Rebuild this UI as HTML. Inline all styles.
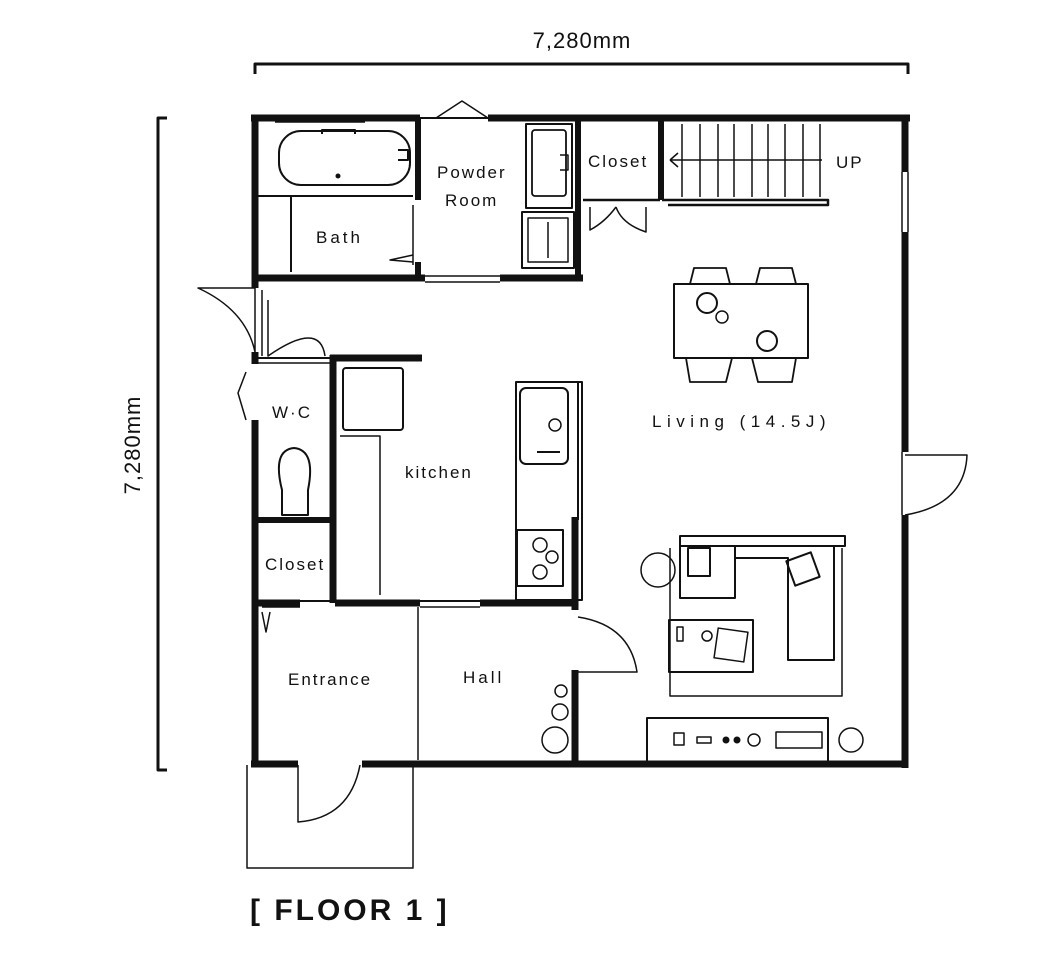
<!DOCTYPE html>
<html><head><meta charset="utf-8"><style>
html,body{margin:0;padding:0;background:#fff;}
svg{display:block;}
text{font-family:"Liberation Sans",sans-serif;fill:#111;}
</style></head><body>
<svg width="1050" height="973" viewBox="0 0 1050 973" xmlns="http://www.w3.org/2000/svg">
<g stroke="#111" fill="none" stroke-linecap="butt" stroke-linejoin="round">
<!-- dimensions -->
<path d="M255 74 V64 H908 V74" stroke-width="3"/>
<path d="M167 118 H158 V770 H167" stroke-width="3"/>
<!-- outer walls -->
<path d="M251 118 H420 M488 118 H910" stroke-width="7"/>
<path d="M420 118 H488" stroke-width="2"/>
<path d="M436 118 L462 101 L488 118" stroke-width="1.5"/>
<path d="M255 115 V288 M255 352 V364 M255 420 V767" stroke-width="7"/>
<path d="M905 115 V172 M905 232 V452 M905 515 V768" stroke-width="7"/>
<path d="M902 172 V232 M908 172 V232 M902 452 V515" stroke-width="1.5"/>
<path d="M251 764 H298 M362 764 H908" stroke-width="7"/>
<!-- bath/powder block -->
<path d="M255 278 H425 M500 278 H583" stroke-width="7"/>
<path d="M425 276 H500 M425 282 H500" stroke-width="1.5"/>
<path d="M418 118 V200 M418 262 V278" stroke-width="6"/>
<path d="M413 205 V265" stroke-width="1.5"/>
<path d="M413 262 L390 260 L413 255" stroke-width="1.5"/>
<path d="M578 118 V278" stroke-width="6"/>
<path d="M661 118 V200" stroke-width="6"/>
<path d="M583 200 H660 M662 200 H828 V205 H668" stroke-width="2.5"/>
<path d="M258 196 H413 M291 196 V272" stroke-width="2"/>
<path d="M275 122 H365" stroke-width="1.5"/>
<rect x="279" y="131" width="131" height="54" rx="22" stroke-width="2"/>
<path d="M322 134 V130 H355 V134" stroke-width="2"/>
<circle cx="338" cy="176" r="2" fill="#111"/>
<path d="M398 150 H408 V160 H398" stroke-width="2"/>
<!-- powder sink/washer -->
<rect x="526" y="124" width="46" height="84" stroke-width="2"/>
<rect x="532" y="130" width="34" height="66" rx="3" stroke-width="1.8"/>
<path d="M560 155 H568 V170 H560" stroke-width="1.5"/>
<rect x="522" y="212" width="52" height="56" stroke-width="2"/>
<rect x="528" y="218" width="40" height="44" stroke-width="1.5"/>
<path d="M548 222 V258" stroke-width="1.5"/>
<!-- closet doors -->
<path d="M590 207 V230 Q605 222 616 207 M616 207 Q622 224 646 232 V207" stroke-width="1.5"/>
<!-- stairs -->
<g stroke-width="1.5">
<path d="M682 124 V197 M700 124 V197 M718 124 V197 M734 124 V197 M752 124 V197 M768 124 V197 M785 124 V197 M803 124 V197 M820 124 V197"/>
<path d="M670 160 H822 M670 160 L678 153 M670 160 L678 167"/>
</g>
<!-- left side -->
<path d="M198 288 H255 V352 Q246 310 198 288 Z" stroke-width="1.5"/>
<path d="M262 290 V356 M268 300 V356 Q320 320 325 356" stroke-width="1.5"/>
<path d="M255 358 H330" stroke-width="2"/>
<path d="M255 363 H330" stroke-width="1.5"/>
<path d="M330 358 H422" stroke-width="7"/>
<path d="M333 355 V603" stroke-width="7"/>
<path d="M246 372 L238 393 L246 420" stroke-width="1.5"/>
<path d="M258 520 H330" stroke-width="6"/>
<path d="M255 603 H300 M335 603 H420 M480 603 H578" stroke-width="7"/>
<path d="M300 601 H335 M420 601 H480" stroke-width="2"/>
<path d="M262 607 H300 M420 607 H480" stroke-width="1.5"/>
<path d="M578 382 V520" stroke-width="2"/>
<path d="M575 517 V610 M575 670 V764" stroke-width="7"/>
<!-- toilet -->
<path d="M282 515 V490 Q272 450 294 448 Q316 450 308 490 V515 Z" stroke-width="2"/>
<!-- kitchen -->
<rect x="343" y="368" width="60" height="62" rx="3" stroke-width="2"/>
<path d="M340 436 H380 V595" stroke-width="1.5"/>
<rect x="516" y="382" width="66" height="218" stroke-width="2"/>
<rect x="520" y="388" width="48" height="76" rx="6" stroke-width="2"/>
<circle cx="555" cy="425" r="6" stroke-width="1.5"/>
<path d="M537 452 H560" stroke-width="2"/>
<rect x="517" y="530" width="46" height="56" stroke-width="2"/>
<circle cx="540" cy="545" r="7" stroke-width="1.5"/><circle cx="552" cy="557" r="6" stroke-width="1.5"/><circle cx="540" cy="572" r="7" stroke-width="1.5"/>
<!-- hall door -->
<path d="M418 607 V760" stroke-width="1.5"/>
<path d="M578 617 Q630 625 637 672 H578" stroke-width="1.5"/>
<path d="M262 612 L266 632 L270 612" stroke-width="1.5"/>
<!-- porch -->
<path d="M247 765 V868 H413 V765" stroke-width="1.5"/>
<path d="M298 765 V822 Q350 818 360 765" stroke-width="1.5"/>
<!-- right door -->
<path d="M905 455 H967 Q965 505 905 515" stroke-width="1.5"/>
<!-- plants -->
<circle cx="658" cy="570" r="17" stroke-width="1.5"/>
<circle cx="561" cy="691" r="6" stroke-width="1.5"/><circle cx="560" cy="712" r="8" stroke-width="1.5"/><circle cx="555" cy="740" r="13" stroke-width="1.5"/>
<!-- dining -->
<rect x="674" y="284" width="134" height="74" stroke-width="2"/>
<path d="M690 284 L694 268 H726 L730 284 M756 284 L760 268 H792 L796 284 M686 358 L690 382 H726 L732 358 M752 358 L758 382 H792 L796 358" stroke-width="1.8"/>
<circle cx="707" cy="303" r="10" stroke-width="2"/><circle cx="767" cy="341" r="10" stroke-width="2"/>
<circle cx="722" cy="317" r="6" stroke-width="1.5"/>
<!-- sofa / rug -->
<path d="M670 548 V696 H842 V548" stroke-width="1.5"/>
<rect x="680" y="536" width="165" height="10" stroke-width="2"/>
<path d="M680 546 V598 H735 V546 M735 558 H788 V598 M788 598 V660 H834 V546" stroke-width="2"/>
<rect x="688" y="548" width="22" height="28" stroke-width="2"/>
<rect x="790" y="556" width="26" height="26" transform="rotate(-20 803 569)" stroke-width="2"/>
<rect x="669" y="620" width="84" height="52" stroke-width="2"/>
<rect x="716" y="630" width="30" height="30" transform="rotate(8 731 645)" stroke-width="1.5"/>
<circle cx="707" cy="636" r="5" stroke-width="1.5"/>
<rect x="677" y="627" width="6" height="14" stroke-width="1.5"/>
<!-- tv board -->
<path d="M647 762 V718 H828 V762" stroke-width="2"/>
<rect x="674" y="733" width="10" height="12" stroke-width="1.5"/>
<rect x="697" y="737" width="14" height="6" stroke-width="1.5"/>
<circle cx="726" cy="740" r="3" fill="#111"/><circle cx="737" cy="740" r="3" fill="#111"/><circle cx="754" cy="740" r="6" stroke-width="1.5"/>
<rect x="776" y="732" width="46" height="16" stroke-width="1.5"/>
<circle cx="851" cy="740" r="12" stroke-width="1.5"/>
</g>
<g font-size="17">
<text x="582" y="48" font-size="22" letter-spacing="1" text-anchor="middle">7,280mm</text>
<text transform="translate(140 445) rotate(-90)" font-size="22" letter-spacing="1" text-anchor="middle">7,280mm</text>
<text x="437" y="178" letter-spacing="2">Powder</text>
<text x="445" y="206" letter-spacing="2">Room</text>
<text x="588" y="167" letter-spacing="2">Closet</text>
<text x="836" y="168" letter-spacing="2">UP</text>
<text x="316" y="243" letter-spacing="3">Bath</text>
<text x="272" y="418" letter-spacing="2">W·C</text>
<text x="405" y="478" letter-spacing="2">kitchen</text>
<text x="652" y="427" letter-spacing="5.5">Living (14.5J)</text>
<text x="265" y="570" letter-spacing="2">Closet</text>
<text x="288" y="685" letter-spacing="2">Entrance</text>
<text x="463" y="683" letter-spacing="3">Hall</text>
</g>
<text x="250" y="920" font-size="30" font-weight="bold" letter-spacing="3">[ FLOOR 1 ]</text>
</svg>
</body></html>
